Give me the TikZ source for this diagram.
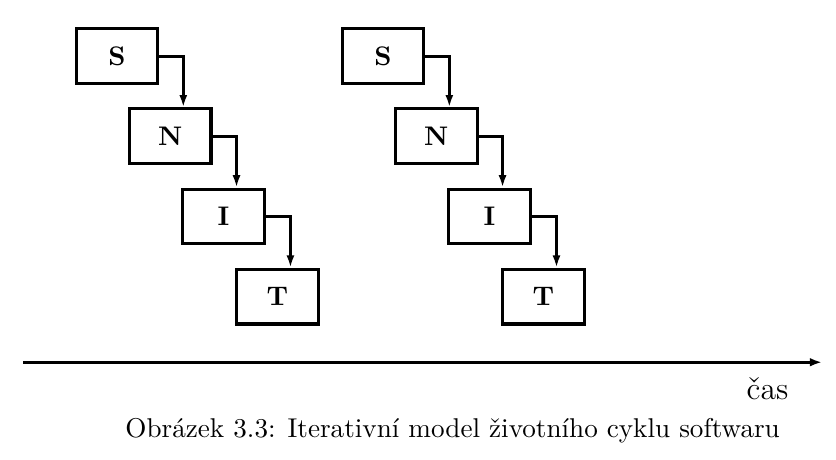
\documentclass[tikz,border=0pt]{standalone}
\usepackage{fontspec}
\usetikzlibrary{positioning,arrows.meta}

\begin{document}
\begin{tikzpicture}[
	blok/.style={draw,line width=1.2pt,minimum width=1.12cm,minimum height=0.75cm,
		font=\fontsize{10.5}{12}\selectfont\bfseries,on grid},
	sipka/.style={line width=1.1pt,-{Latex[length=1.7mm,width=1.1mm]}},
	osa/.style={line width=1.2pt,-{Latex[length=1.7mm,width=1.2mm]}}]
	\useasboundingbox (0,0) rectangle (11.47,6.30);
	%% prvni iterace
	\node[blok] (S1) at (1.605,5.53) {S};
	\node[blok,below right = 1.1cm and 0.73cm of S1] (N1) {N};
	\node[blok,below right = 1.1cm and 0.73cm of N1] (I1) {I};
	\node[blok,below right = 1.1cm and 0.74cm of I1] (T1) {T};
	%% druha iterace
	\node[blok,right = 3.65cm of S1] (S2) {S};
	\node[blok,below right = 1.1cm and 0.73cm of S2] (N2) {N};
	\node[blok,below right = 1.1cm and 0.73cm of N2] (I2) {I};
	\node[blok,below right = 1.1cm and 0.74cm of I2] (T2) {T};
	% spojnice mezi fazemi
	\draw[sipka] (S1.east) -| ([xshift=0.18cm]N1.north);
	\draw[sipka] (N1.east) -| ([xshift=0.18cm]I1.north);
	\draw[sipka] (I1.east) -| ([xshift=0.18cm]T1.north);
	\draw[sipka] (S2.east) -| ([xshift=0.18cm]N2.north);
	\draw[sipka] (N2.east) -| ([xshift=0.18cm]I2.north);
	\draw[sipka] (I2.east) -| ([xshift=0.18cm]T2.north);
	% casova osa
	\coordinate (osa0) at (0.32,1.33);
	\coordinate (osa1) at (11.28,1.33);
	\draw[osa] (osa0) -- (osa1);
	\node[anchor=base,font=\fontsize{12.4}{15}\selectfont] (cas) at (10.53,0.82) {čas};
	\node[anchor=base,font=\fontsize{10.6}{13}\selectfont] (popis) at (6.21,0.30)
		{Obrázek 3.3: Iterativní model životního cyklu softwaru};
\end{tikzpicture}
\end{document}
